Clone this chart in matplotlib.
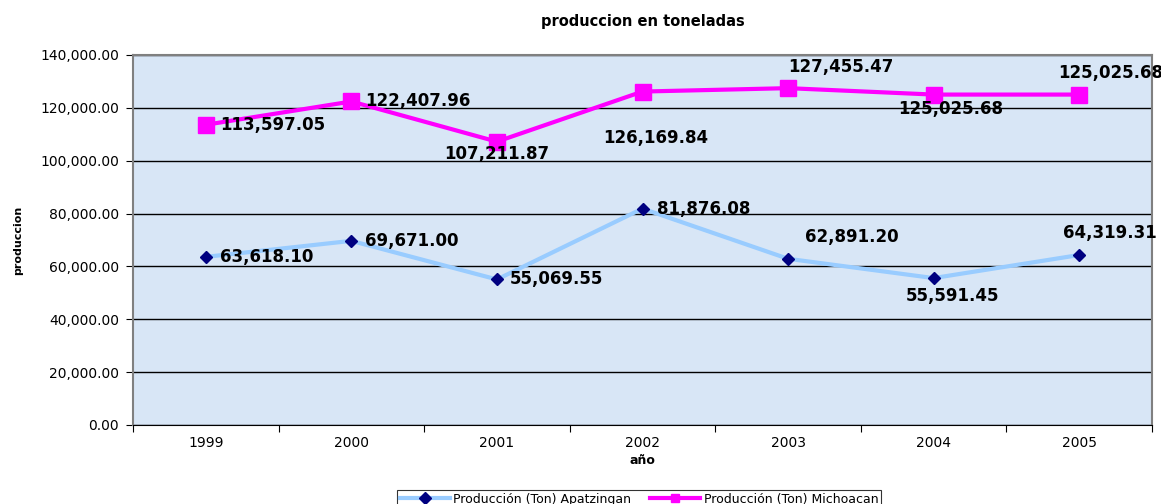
import matplotlib.pyplot as plt
from matplotlib.ticker import FuncFormatter

anios = ["1999", "2000", "2001", "2002", "2003", "2004", "2005"]
apatzingan = [63618.10, 69671.00, 55069.55, 81876.08, 62891.20, 55591.45, 64319.31]
michoacan = [113597.05, 122407.96, 107211.87, 126169.84, 127455.47, 125025.68, 125025.68]

# label offsets in pixels (dx, dy, ha)
off_mich = [(14, 0, "left"), (14, 0, "left"), (0, -12, "center"), (13, -46, "center"),
            (53, 21, "center"), (17, -14, "center"), (31, 22, "center")]
off_apat = [(14, 0, "left"), (14, 0, "left"), (13, 0, "left"), (14, 0, "left"),
            (64, 22, "center"), (19, -18, "center"), (31, 22, "center")]

fig = plt.figure(figsize=(11.61, 5.04), dpi=100)
ax = fig.add_axes([133/1161, 1-425/504, (1152-133)/1161, 370/504])
ax.set_facecolor("#d8e6f6")

x = list(range(len(anios)))
ax.plot(x, apatzingan, color="#99ccff", lw=3, marker="D", ms=6,
        mfc="#000080", mec="#000080", label="Producción (Ton) Apatzingan", zorder=3)
ax.plot(x, michoacan, color="#ff00ff", lw=3, marker="s", ms=11,
        mfc="#ff00ff", mec="#ff00ff", label="Producción (Ton) Michoacan", zorder=3)

for serie, offs in [(michoacan, off_mich), (apatzingan, off_apat)]:
    for i, v in enumerate(serie):
        dx, dy, ha = offs[i]
        ax.annotate(f"{v:,.2f}", (i, v), xytext=(dx, dy), textcoords="offset pixels",
                    ha=ha, va="center", fontsize=12, fontweight="bold", color="black", zorder=4)

ax.set_xlim(-0.5, 6.5)
ax.set_ylim(0, 140000)
ax.set_yticks(range(0, 140001, 20000))
ax.yaxis.set_major_formatter(FuncFormatter(lambda v, p: f"{v:,.2f}"))
ax.grid(axis="y", color="black", lw=1)
ax.set_axisbelow(True)

ax.set_xticks([i - 0.5 for i in range(8)])
ax.set_xticklabels([])
ax.set_xticks(x, minor=True)
ax.set_xticklabels(anios, minor=True)
ax.tick_params(axis="x", which="major", length=5, direction="out")
ax.tick_params(axis="x", which="minor", length=0, pad=8, labelsize=10)
ax.tick_params(axis="y", length=5, direction="out", labelsize=10, pad=5)

for s in ["top", "right", "left"]:
    ax.spines[s].set_color("#808080")
    ax.spines[s].set_linewidth(1.5)
ax.spines["bottom"].set_color("black")

ax.set_title("produccion en toneladas", fontsize=10.5, fontweight="bold", pad=21)
ax.set_xlabel("año", fontsize=9, fontweight="bold", labelpad=3)
ax.set_ylabel("produccion", fontsize=8, fontweight="bold", labelpad=12)

leg = fig.legend(loc="upper center", bbox_to_anchor=(639/1161, 1-484/504), ncol=2,
                 fontsize=9, frameon=True, fancybox=False, edgecolor="black",
                 handlelength=4, borderpad=0.2, columnspacing=1.5, handletextpad=0.3)
leg.get_frame().set_linewidth(0.8)
for h in leg.legend_handles:
    h.set_markersize(6)

fig.savefig("out.png", dpi=100)
